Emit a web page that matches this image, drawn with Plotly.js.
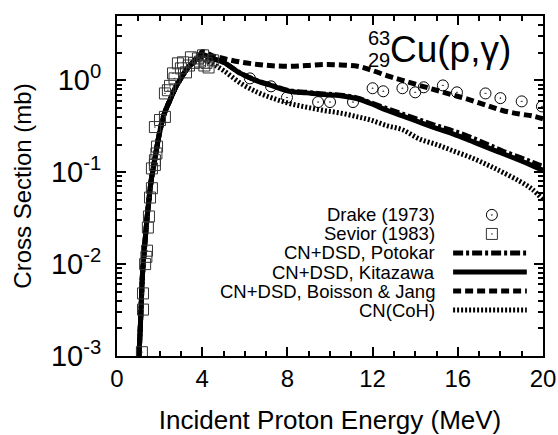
<!DOCTYPE html>
<html>
<head>
<meta charset="utf-8">
<script src="https://cdn.plot.ly/plotly-3.0.1.min.js"></script>
<style>html,body{margin:0;padding:0;background:#fff;}#chart{width:558px;height:435px;}</style>
</head>
<body>
<div id="chart"></div>
<script>
// Experimental data
var drakeE = [6.24, 7.23, 7.98, 9.44, 10.0, 11.08, 12.0, 12.5, 13.4, 14.0, 14.4, 15.3, 15.96, 17.3, 18.0, 19.0, 19.95];
var drakeS = [1.05, 0.86, 0.65, 0.58, 0.58, 0.58, 0.82, 0.76, 0.82, 0.74, 0.84, 0.88, 0.74, 0.72, 0.64, 0.59, 0.52];

var seviorE = [1.17, 1.22, 1.22, 1.32, 1.38, 1.41, 1.45, 1.5, 1.55, 1.64, 1.64, 1.78, 1.85, 1.78, 1.88, 1.78, 2.02, 2.25, 2.25, 2.39, 2.49, 2.63, 2.86, 3.1, 3.24, 3.38, 3.47, 3.62, 3.8, 3.9, 4.04, 4.1, 4.2, 4.3, 4.5, 3.0, 2.7];
var seviorS = [0.0011, 0.0032, 0.0048, 0.010, 0.012, 0.014, 0.025, 0.033, 0.053, 0.067, 0.11, 0.135, 0.16, 0.12, 0.19, 0.31, 0.37, 0.40, 0.72, 0.78, 0.87, 1.19, 1.53, 1.57, 1.22, 1.45, 1.78, 1.55, 1.73, 1.6, 1.87, 1.45, 1.55, 1.38, 1.65, 1.35, 1.05];

// Calculations
var calcE = [1.03, 1.1, 1.2, 1.3, 1.4, 1.5, 1.6, 1.7, 1.8, 2.0, 2.2, 2.5, 2.8, 3.0, 3.3, 3.6, 3.9, 4.0, 4.5, 5.0, 5.8, 6.6, 7.3, 8.1, 8.9, 9.7, 10.5, 11.3, 11.9, 12.7, 13.4, 14.2, 15.0, 15.8, 16.6, 17.4, 18.1, 18.9, 19.5, 20.0];
var potokarS = [0.001, 0.0022, 0.008, 0.016, 0.03, 0.05, 0.08, 0.11, 0.15, 0.27, 0.42, 0.62, 0.88, 1.05, 1.35, 1.6, 1.82, 1.9, 1.72, 1.57, 1.19, 0.99, 0.88, 0.77, 0.74, 0.71, 0.69, 0.64, 0.57, 0.49, 0.43, 0.37, 0.32, 0.28, 0.24, 0.2, 0.17, 0.145, 0.128, 0.115];
var kitazawaS = [0.001, 0.0022, 0.008, 0.016, 0.03, 0.05, 0.08, 0.11, 0.15, 0.27, 0.42, 0.62, 0.88, 1.05, 1.35, 1.6, 1.82, 1.9, 1.72, 1.57, 1.19, 0.98, 0.87, 0.76, 0.73, 0.7, 0.68, 0.63, 0.56, 0.47, 0.41, 0.35, 0.3, 0.26, 0.22, 0.185, 0.16, 0.135, 0.118, 0.105];
var boissonS = [0.001, 0.0022, 0.008, 0.016, 0.03, 0.05, 0.08, 0.11, 0.15, 0.27, 0.42, 0.62, 0.88, 1.05, 1.35, 1.6, 1.9, 2.05, 1.85, 1.73, 1.58, 1.49, 1.44, 1.42, 1.45, 1.49, 1.47, 1.42, 1.3, 1.12, 1.0, 0.88, 0.78, 0.69, 0.61, 0.53, 0.47, 0.43, 0.41, 0.38];
var cohS = [0.001, 0.0022, 0.008, 0.016, 0.03, 0.05, 0.08, 0.11, 0.15, 0.27, 0.42, 0.62, 0.88, 1.05, 1.35, 1.55, 1.7, 1.72, 1.5, 1.28, 0.93, 0.74, 0.64, 0.56, 0.51, 0.47, 0.44, 0.4, 0.37, 0.32, 0.29, 0.23, 0.2, 0.17, 0.145, 0.12, 0.1, 0.08, 0.065, 0.05];

var legendLabels = ["Drake (1973)", "Sevior (1983)", "CN+DSD, Potokar", "CN+DSD, Kitazawa", "CN+DSD, Boisson & Jang", "CN(CoH)"];

var xTickVals = [0, 4, 8, 12, 16, 20];
var xTickText = ["0", "4", "8", "12", "16", "20"];
var yTickVals = [0.001, 0.01, 0.1, 1];
var yTickText = ["10<sup>-3</sup>", "10<sup>-2</sup>", "10<sup>-1</sup>", "10<sup>0</sup>"];

var FONT = "Liberation Sans, Arial, Helvetica, sans-serif";

var traces = [
  {x: calcE, y: cohS, mode: "lines", line: {color: "#000", width: 5, dash: "2px,2px", shape: "spline"}, showlegend: false},
  {x: calcE, y: boissonS, mode: "lines", line: {color: "#000", width: 5, dash: "8px,4px", shape: "spline"}, showlegend: false},
  {x: calcE, y: potokarS, mode: "lines", line: {color: "#000", width: 5, dash: "10px,3px,3px,3px", shape: "spline"}, showlegend: false},
  {x: calcE, y: kitazawaS, mode: "lines", line: {color: "#000", width: 5, shape: "spline"}, showlegend: false},
  {x: seviorE, y: seviorS, mode: "markers", marker: {symbol: "square-open-dot", size: 11, color: "#333", line: {width: 1, color: "#333"}}, showlegend: false},
  {x: drakeE, y: drakeS, mode: "markers", marker: {symbol: "circle-open-dot", size: 11, color: "#000", line: {width: 1, color: "#000"}}, showlegend: false}
];

// legend samples on a hidden overlay axis (fractions of the plot area)
var legRowY = [0.415, 0.359, 0.303, 0.247, 0.191, 0.135];
var legX0 = 0.789, legX1 = 0.962, legXm = 0.880, legTextX = 0.751;
traces.push({x: [legXm], y: [legRowY[0]], xaxis: "x2", yaxis: "y2", mode: "markers",
  marker: {symbol: "circle-open-dot", size: 11, color: "#000", line: {width: 1}}, showlegend: false, hoverinfo: "skip"});
traces.push({x: [legXm], y: [legRowY[1]], xaxis: "x2", yaxis: "y2", mode: "markers",
  marker: {symbol: "square-open-dot", size: 11, color: "#333", line: {width: 1}}, showlegend: false, hoverinfo: "skip"});
var legDash = ["10px,3px,3px,3px", "solid", "8px,4px", "2px,2px"];
for (var i = 0; i < 4; i++) {
  traces.push({x: [legX0, legX1], y: [legRowY[i + 2], legRowY[i + 2]], xaxis: "x2", yaxis: "y2", mode: "lines",
    line: {color: "#000", width: 5, dash: legDash[i]}, showlegend: false, hoverinfo: "skip"});
}

var annotations = [];
for (var j = 0; j < legendLabels.length; j++) {
  annotations.push({xref: "x2", yref: "y2", x: legTextX, y: legRowY[j], text: legendLabels[j], showarrow: false,
    xanchor: "right", yanchor: "middle", font: {family: FONT, size: 18.5, color: "#000"}});
}
annotations.push({xref: "paper", yref: "paper", x: 0.615, y: 0.935, text: "63", showarrow: false,
  xanchor: "center", yanchor: "middle", font: {family: FONT, size: 20, color: "#000"}});
annotations.push({xref: "paper", yref: "paper", x: 0.615, y: 0.872, text: "29", showarrow: false,
  xanchor: "center", yanchor: "middle", font: {family: FONT, size: 20, color: "#000"}});
annotations.push({xref: "paper", yref: "paper", x: 0.636, y: 0.9, text: "Cu(p,γ)", showarrow: false,
  xanchor: "left", yanchor: "middle", font: {family: FONT, size: 37, color: "#000"}});

var layout = {
  width: 558, height: 435,
  margin: {l: 117, r: 15, t: 16, b: 79, pad: 0},
  paper_bgcolor: "#fff", plot_bgcolor: "#fff",
  font: {family: FONT, color: "#000"},
  showlegend: false,
  xaxis: {
    range: [0, 20], tickvals: xTickVals, ticktext: xTickText,
    ticks: "inside", ticklen: 9, tickwidth: 2, tickcolor: "#000",
    showline: true, linewidth: 2, linecolor: "#000", mirror: "allticks",
    showgrid: false, zeroline: false,
    tickfont: {family: FONT, size: 24, color: "#000"},
    minor: {dtick: 1, ticks: "inside", ticklen: 5, tickwidth: 2, tickcolor: "#000", showgrid: false},
    title: {text: "Incident Proton Energy (MeV)", font: {family: FONT, size: 26, color: "#000"}, standoff: 20}
  },
  yaxis: {
    type: "log", range: [-3, 0.7], tickvals: yTickVals, ticktext: yTickText,
    ticks: "inside", ticklen: 9, tickwidth: 2, tickcolor: "#000",
    showline: true, linewidth: 2, linecolor: "#000", mirror: "allticks",
    showgrid: false, zeroline: false, ticklabelstandoff: 8,
    tickfont: {family: FONT, size: 29, color: "#000"},
    minor: {dtick: "D1", ticks: "inside", ticklen: 5, tickwidth: 2, tickcolor: "#000", showgrid: false},
    title: {text: "Cross Section (mb)", font: {family: FONT, size: 24, color: "#000"}, standoff: 12}
  },
  xaxis2: {overlaying: "x", range: [0, 1], visible: false, fixedrange: true},
  yaxis2: {overlaying: "y", range: [0, 1], visible: false, fixedrange: true},
  annotations: annotations
};

Plotly.newPlot("chart", traces, layout, {displayModeBar: false, staticPlot: true});
</script>
</body>
</html>
